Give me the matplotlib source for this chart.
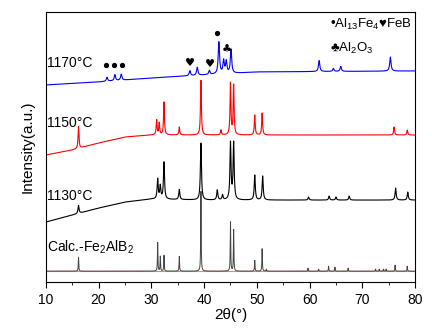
import numpy as np
import matplotlib
matplotlib.use("Agg")
from matplotlib import pyplot as plt

plt.rcParams["font.family"] = ["Liberation Sans", "DejaVu Sans"]
plt.rcParams["mathtext.fontset"] = "custom"
plt.rcParams["mathtext.rm"] = "Liberation Sans"
plt.rcParams["mathtext.it"] = "Liberation Sans"

# Data (2theta in degrees, intensity in arbitrary units)
two_theta = np.linspace(10, 80, 3500)

# Calculated Fe2AlB2 pattern
calc_base = 11
calc_pos = [16.2, 31.2, 31.7, 32.4, 35.3, 39.4, 45.0, 45.6, 49.6, 51.0, 51.8,
            59.7, 61.7, 63.6, 64.8, 67.3, 72.5, 73.2, 74.0, 74.5, 76.2, 78.5]
calc_hgt = [14, 29, 15, 16, 15, 82, 51, 43, 11, 23, 2,
            3, 2, 5, 4, 3, 2, 2, 2, 2, 6, 5]

# 1130 C
b1130_x = [10, 15, 20, 25, 30, 40, 80]
b1130_y = [60, 67, 74, 80, 83, 82, 82]
p1130_pos = [16.2, 31.2, 31.7, 32.4, 35.3, 39.4, 42.5, 43.5, 45.0, 45.6, 49.6, 51.1,
             59.8, 63.7, 65.0, 67.5, 76.3, 78.6]
p1130_hgt = [8, 20, 13, 37, 10, 57, 10, 5, 57, 57, 25, 24,
             3, 4, 3, 4, 12, 8]

# 1150 C
b1150_x = [10, 15, 20, 25, 30, 40, 80]
b1150_y = [127, 132, 139, 145, 147, 147, 147]
p1150_pos = [16.2, 31.0, 31.5, 32.4, 35.3, 39.4, 43.2, 45.0, 45.6, 49.6, 51.0, 76.0, 78.5]
p1150_hgt = [22, 15, 12, 33, 8, 55, 5, 52, 50, 20, 22, 8, 5]

# 1170 C
b1170_x = [10, 20, 30, 40, 50, 80]
b1170_y = [197, 200, 204, 207, 210, 211]
p1170_pos = [21.6, 23.1, 24.3, 37.3, 38.7, 41.0, 42.8, 43.7, 44.2, 45.1, 61.8, 64.5, 65.9, 75.3]
p1170_hgt = [4, 6, 6, 5, 8, 4, 32, 13, 12, 24, 11, 3, 5, 14]

# phase markers (2theta, height)
al13fe4_x = [21.5, 23.0, 24.5, 42.5]
al13fe4_y = [217, 217, 217, 249]
feb_x = [37.3, 41.1]
feb_y = [219, 218]
al2o3_x = [44.3]
al2o3_y = [232]


def pattern(base, pos, hgt, width):
    y = np.zeros_like(two_theta) + base
    for p, h in zip(pos, hgt):
        y += h / (1 + ((two_theta - p) / width) ** 2)
    return y


fig = plt.figure(figsize=(4.32, 3.30), dpi=100)
ax = fig.add_axes([0.106, 0.145, 0.855, 0.819])

ax.axhline(calc_base, color="#f08080", lw=0.8)
ax.plot(two_theta, pattern(calc_base, calc_pos, calc_hgt, 0.05), color="#444444", lw=0.7)
ax.plot(two_theta, pattern(np.interp(two_theta, b1130_x, b1130_y), p1130_pos, p1130_hgt, 0.12),
        color="black", lw=0.8)
ax.plot(two_theta, pattern(np.interp(two_theta, b1150_x, b1150_y), p1150_pos, p1150_hgt, 0.1),
        color="red", lw=0.8)
ax.plot(two_theta, pattern(np.interp(two_theta, b1170_x, b1170_y), p1170_pos, p1170_hgt, 0.15),
        color="blue", lw=0.8)

fs = 10
ax.text(10.3, 219, "1170°C", fontsize=fs, va="center")
ax.text(10.3, 159, "1150°C", fontsize=fs, va="center")
ax.text(10.3, 86, "1130°C", fontsize=fs, va="center")
ax.text(10.3, 35, "Calc.-Fe$_2$AlB$_2$", fontsize=fs, va="center")

# phase markers
ax.plot(al13fe4_x, al13fe4_y, "o", color="black", ms=2.8, ls="none")
for x, y in zip(feb_x, feb_y):
    ax.text(x, y, "♥", fontsize=8, family="DejaVu Sans", ha="center", va="center")
for x, y in zip(al2o3_x, al2o3_y):
    ax.text(x, y, "♣", fontsize=8, family="DejaVu Sans", ha="center", va="center")

ax.text(63.8, 257, "•Al$_{13}$Fe$_4$♥FeB", fontsize=9.5, va="center")
ax.text(63.8, 233, "♣Al$_2$O$_3$", fontsize=9.5, va="center")

ax.set_xlim(10, 80)
ax.set_ylim(0, 270)
ax.set_xticks(range(10, 81, 10))
ax.set_xticks(range(15, 80, 10), minor=True)
ax.set_yticks([])
ax.tick_params(axis="x", labelsize=fs, direction="out", length=4)
ax.tick_params(axis="x", which="minor", length=2.5)
ax.set_xlabel("2θ(°)", fontsize=11, labelpad=1)
ax.set_ylabel("Intensity(a.u.)", fontsize=11, labelpad=8)

fig.savefig("out.png", dpi=100)
